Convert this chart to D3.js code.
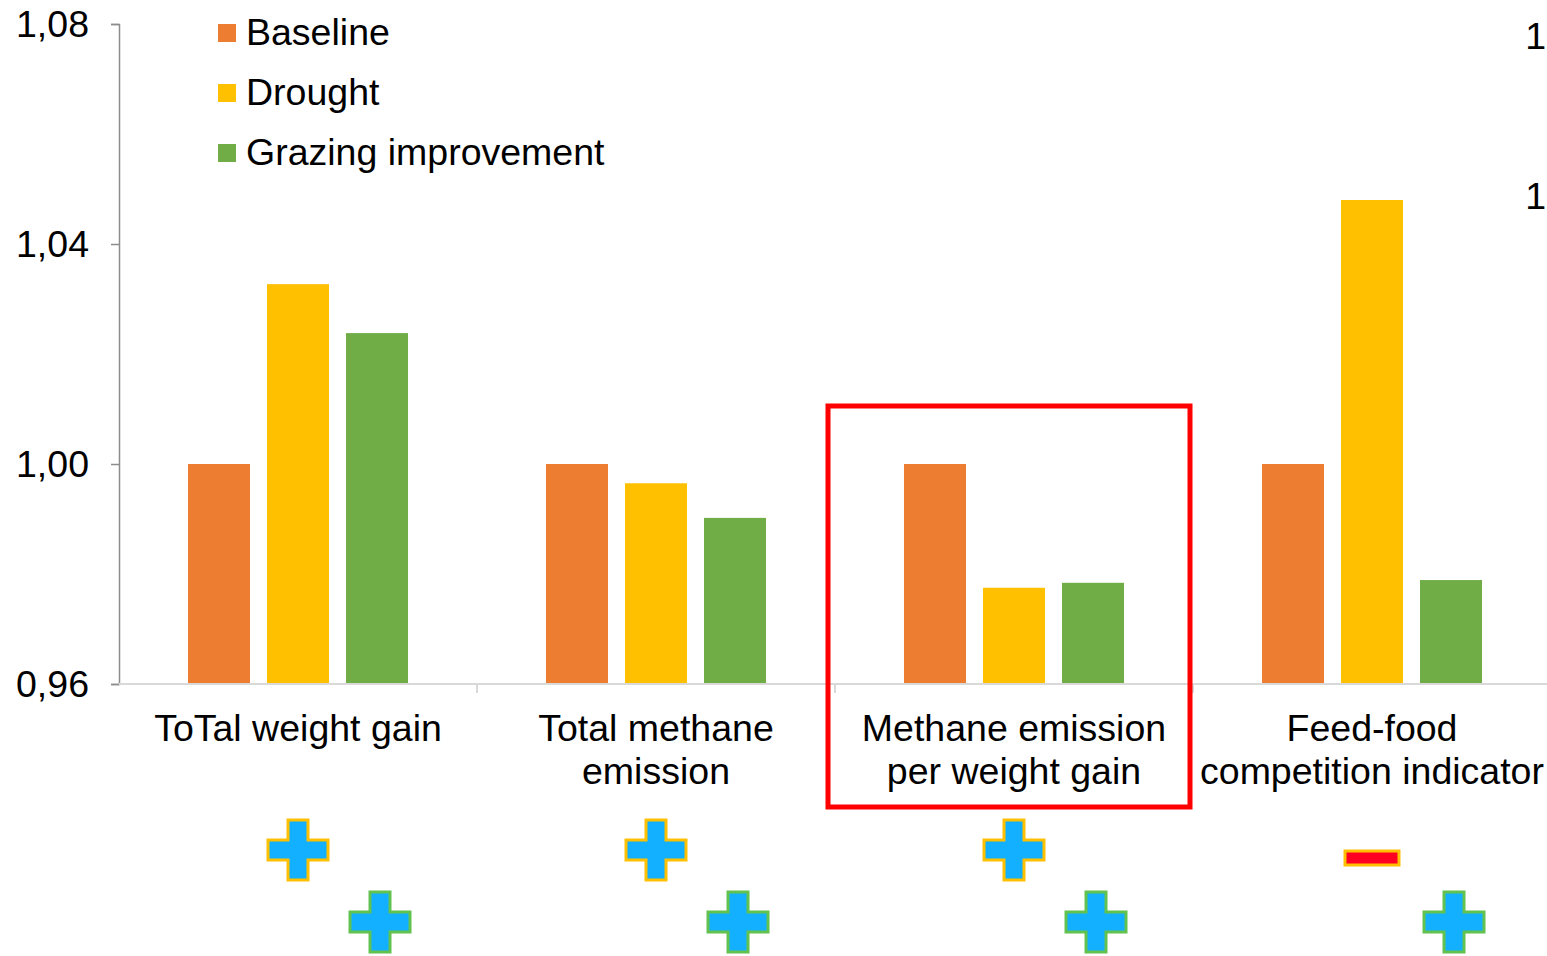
<!DOCTYPE html>
<html>
<head>
<meta charset="utf-8">
<script src="https://cdn.jsdelivr.net/npm/d3@7"></script>
<style>
  body { margin: 0; background: #fff; }
  text { font-family: "Liberation Sans", Arial, sans-serif; fill: #000; }
</style>
</head>
<body>
<svg id="chart" width="1547" height="956"></svg>
<script>
// categories and series
var categories = [
    ["ToTal weight gain"],
    ["Total methane", "emission"],
    ["Methane emission", "per weight gain"],
    ["Feed-food", "competition indicator"]
];
var series = ["Baseline", "Drought", "Grazing improvement"];
var colors = ["#ED7D31", "#FFC000", "#70AD47"];

var baseline = [1.000, 1.000, 1.000, 1.000];
var drought = [1.0327, 0.9965, 0.9775, 1.048];
var grazing = [1.0238, 0.9902, 0.9784, 0.9789];

var yTicks = [0.96, 1.00, 1.04, 1.08];
var rightLabels = ["1", "1"];

// effect signs below the axis: drought row, grazing row
var droughtSign = ["+", "+", "+", "-"];
var grazingSign = ["+", "+", "+", "+"];

var svg = d3.select("#chart");
var values = [baseline, drought, grazing];
var fontSize = "37.5px";

var x0 = d3.scaleBand()
    .domain(d3.range(categories.length))
    .range([119, 1551]);

var x1 = d3.scaleBand()
    .domain(series)
    .range([0, x0.bandwidth()])
    .paddingInner(0.215)
    .paddingOuter(0.873);

var y = d3.scaleLinear()
    .domain([0.96, 1.08])
    .range([684, 24]);

var fmt = d3.formatLocale({decimal: ",", thousands: ".", grouping: [3], currency: ["", ""]}).format(".2f");

// bars
series.forEach(function (s, si) {
    svg.append("g")
        .selectAll("rect")
        .data(values[si])
        .enter().append("rect")
        .attr("x", function (d, i) { return x0(i) + x1(s); })
        .attr("y", function (d) { return y(Math.max(d, 0.96)); })
        .attr("width", x1.bandwidth())
        .attr("height", function (d) { return y(0.96) - y(d); })
        .style("fill", colors[si]);
});

// y axis
var y_axis = d3.axisLeft(y)
    .tickValues(yTicks)
    .tickFormat(fmt)
    .tickSize(8)
    .tickPadding(22);

var ya = svg.append("g")
    .attr("transform", "translate(119,0)")
    .call(y_axis);
ya.select(".domain").attr("stroke", "#8c8c8c").attr("stroke-width", 1.5);
ya.selectAll(".tick line").attr("stroke", "#8c8c8c").attr("stroke-width", 1.5);
ya.selectAll(".tick text")
    .style("font-size", fontSize)
    .style("font-family", "Liberation Sans, Arial, sans-serif")
    .attr("fill", "#000");

// x axis line with category separators
svg.append("line")
    .attr("x1", 119).attr("x2", 1551)
    .attr("y1", y(0.96)).attr("y2", y(0.96))
    .attr("stroke", "#d9d9d9").attr("stroke-width", 2);

svg.append("g")
    .selectAll("line")
    .data(d3.range(1, categories.length))
    .enter().append("line")
    .attr("x1", function (i) { return x0(i); })
    .attr("x2", function (i) { return x0(i); })
    .attr("y1", y(0.96))
    .attr("y2", y(0.96) + 9)
    .attr("stroke", "#d9d9d9").attr("stroke-width", 2);

// category labels
var labels = svg.append("g")
    .selectAll("text")
    .data(categories)
    .enter().append("text")
    .attr("text-anchor", "middle")
    .attr("x", function (d, i) { return x0(i) + x0.bandwidth() / 2; })
    .attr("y", 741)
    .style("font-size", fontSize);

labels.selectAll("tspan")
    .data(function (d) { return d; })
    .enter().append("tspan")
    .attr("x", function () { return d3.select(this.parentNode).attr("x"); })
    .attr("dy", function (d, i) { return i == 0 ? 0 : 43; })
    .text(function (d) { return d; });

// highlight box around third category
svg.append("rect")
    .attr("x", x0(2) - 7)
    .attr("y", 406)
    .attr("width", x0.bandwidth() + 4)
    .attr("height", 401)
    .attr("fill", "none")
    .attr("stroke", "#FF0000")
    .attr("stroke-width", 5);

// legend
var legend = svg.append("g")
    .selectAll("g")
    .data(series)
    .enter().append("g")
    .attr("transform", function (d, i) { return `translate(218,${24 + i * 60})`; });

legend.append("rect")
    .attr("width", 18).attr("height", 18)
    .style("fill", function (d, i) { return colors[i]; });

legend.append("text")
    .attr("x", 28)
    .attr("y", 21)
    .style("font-size", fontSize)
    .text(function (d) { return d; });

// right-hand labels at the edge
svg.append("g")
    .selectAll("text")
    .data(rightLabels)
    .enter().append("text")
    .attr("x", 1546)
    .attr("text-anchor", "end")
    .attr("y", function (d, i) { return 49 + i * 160; })
    .style("font-size", fontSize)
    .text(function (d) { return d; });

// plus / minus markers
function drawSign(cx, cy, sign, border) {
    if (sign == "+") {
        var a = 30, t = 10;
        var pts = [[-t, -a], [t, -a], [t, -t], [a, -t], [a, t], [t, t], [t, a], [-t, a], [-t, t], [-a, t], [-a, -t], [-t, -t]];
        svg.append("polygon")
            .attr("points", pts.map(function (p) { return (cx + p[0]) + "," + (cy + p[1]); }).join(" "))
            .attr("fill", "#12B0FF")
            .attr("stroke", border)
            .attr("stroke-width", 3);
    } else {
        svg.append("rect")
            .attr("x", cx - 27).attr("y", cy + 1)
            .attr("width", 54).attr("height", 14)
            .attr("fill", "#FF0022")
            .attr("stroke", border)
            .attr("stroke-width", 3);
    }
}

categories.forEach(function (c, i) {
    drawSign(x0(i) + x1("Drought") + x1.bandwidth() / 2, 850, droughtSign[i], "#FFC000");
    drawSign(x0(i) + x1("Grazing improvement") + x1.bandwidth() / 2 + 3, 922, grazingSign[i], "#62C24F");
});
</script>
</body>
</html>
